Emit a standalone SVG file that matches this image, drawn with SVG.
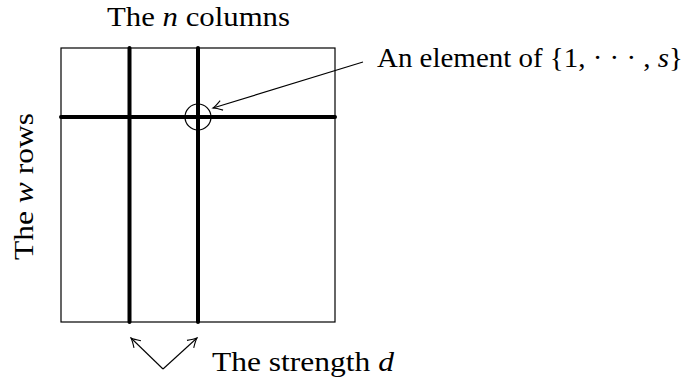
<svg xmlns="http://www.w3.org/2000/svg" width="687" height="381" viewBox="0 0 687 381">
<defs>
<marker id="ah" viewBox="-10 -6 12 12" refX="0" refY="0" markerWidth="12" markerHeight="12" markerUnits="userSpaceOnUse" orient="auto">
<path d="M-9,-5 Q-3,-1 0,0 Q-3,1 -9,5" fill="none" stroke="#000" stroke-width="1.1"/>
</marker>
<style>
.t{font-family:"Liberation Serif","DejaVu Serif",serif;font-size:27px;fill:#000}
.m{font-style:italic}
.thin{stroke:#000;stroke-width:1.2;fill:none}
.thick{stroke:#000;stroke-width:4;stroke-linecap:round;fill:none}
.arr{stroke:#000;stroke-width:1.1;fill:none;marker-end:url(#ah)}
</style>
</defs>
<g id="grid">
<rect class="thin" x="61" y="48" width="274" height="274"/>
<line class="thick" x1="129.5" y1="48" x2="129.5" y2="322"/>
<line class="thick" x1="198" y1="48" x2="198" y2="322"/>
<line class="thick" x1="61" y1="117" x2="335" y2="117"/>
<circle class="thin" cx="198" cy="117" r="13"/>
</g>
<g id="labels">
<text class="t" x="107" y="26" textLength="183" lengthAdjust="spacingAndGlyphs">The <tspan class="m">n</tspan> columns</text>
<text class="t" x="377" y="67" textLength="306" lengthAdjust="spacingAndGlyphs">An element of {1, · · · , <tspan class="m">s</tspan>}</text>
<text class="t" x="212" y="371" textLength="182" lengthAdjust="spacingAndGlyphs">The strength <tspan class="m">d</tspan></text>
<text class="t" transform="translate(33,260) rotate(-90)" textLength="147" lengthAdjust="spacingAndGlyphs">The <tspan class="m">w</tspan> rows</text>
</g>
<g id="connectors">
<line class="arr" x1="363" y1="62" x2="213" y2="108"/>
<line class="arr" x1="163" y1="369" x2="131" y2="338"/>
<line class="arr" x1="163" y1="369" x2="197" y2="338"/>
</g>
</svg>
